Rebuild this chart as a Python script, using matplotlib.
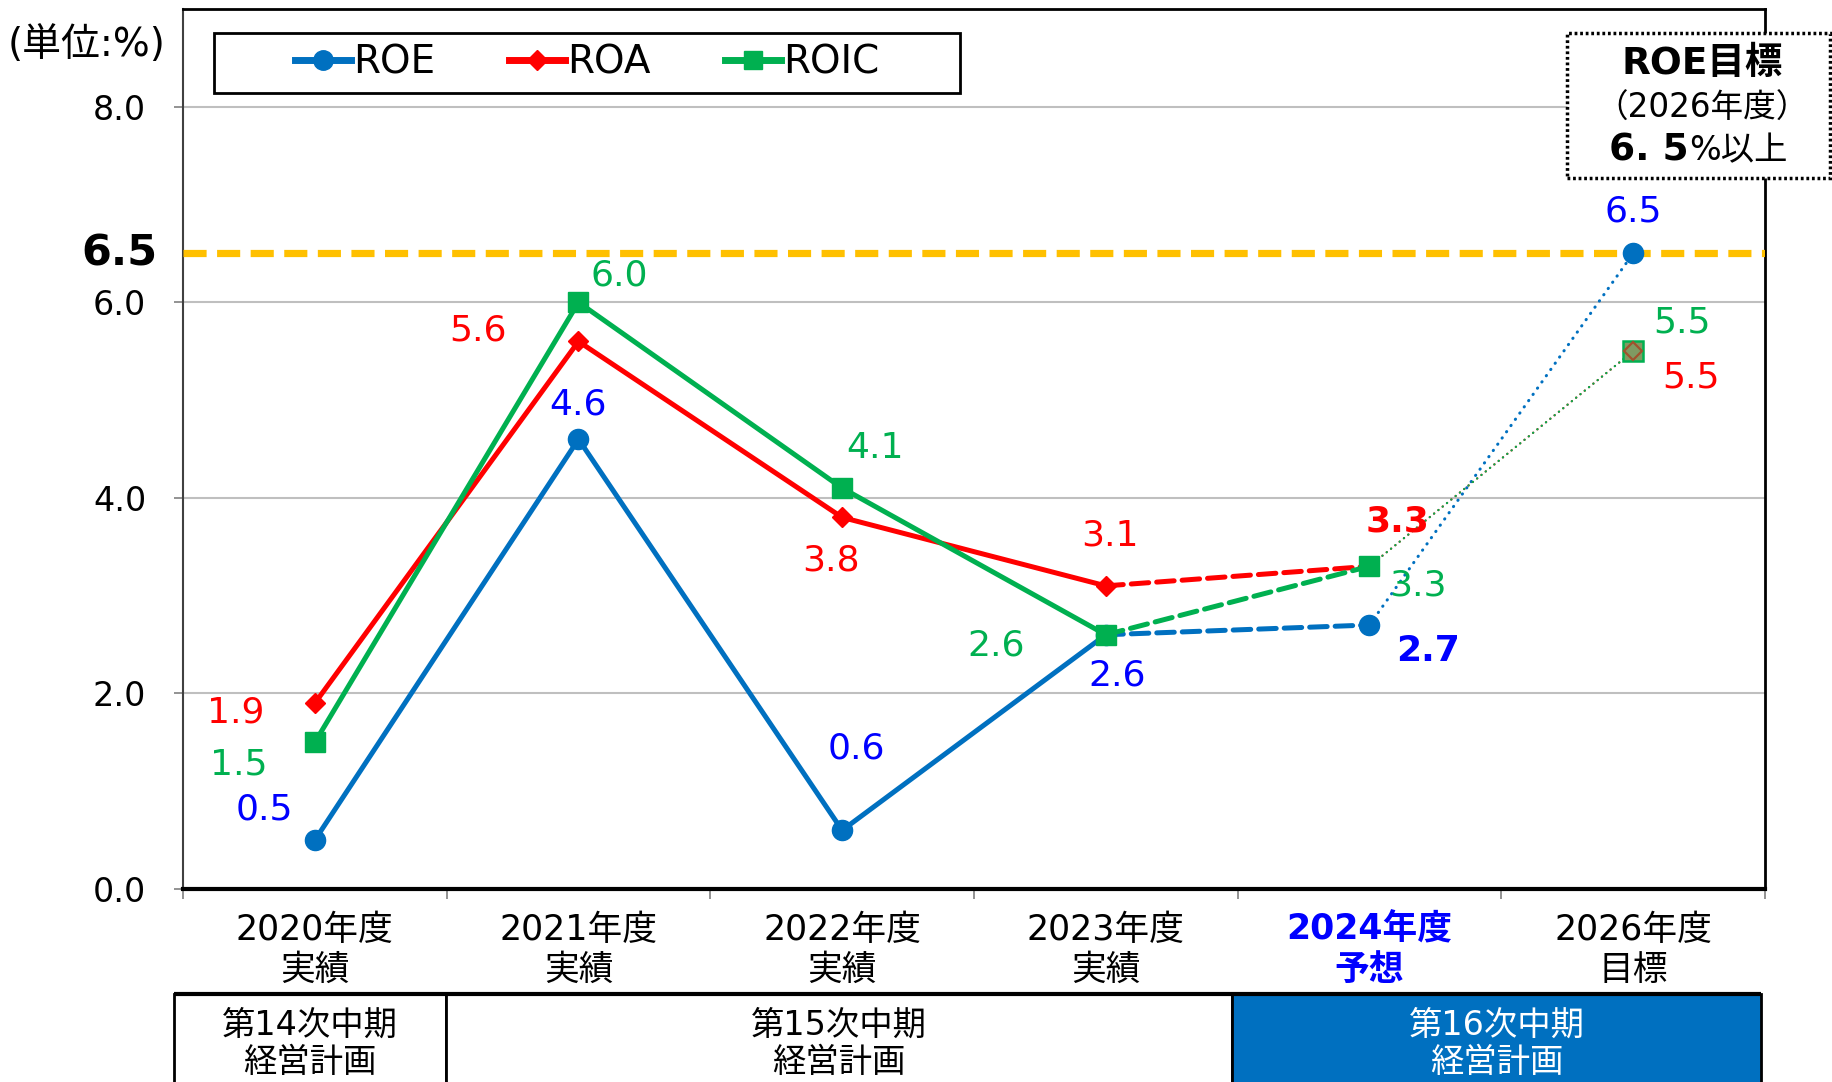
import matplotlib
matplotlib.use("Agg")
import matplotlib.pyplot as plt
import matplotlib.transforms as mtrans
from matplotlib.patches import Rectangle
from matplotlib.lines import Line2D

# Verdana-like digits first, CJK glyphs fall back to Noto
plt.rcParams['font.family'] = ['DejaVu Sans', 'Noto Sans CJK JP']

# data
years = ["2020年度\n実績", "2021年度\n実績", "2022年度\n実績", "2023年度\n実績",
         "2024年度\n予想", "2026年度\n目標"]
roe = [0.5, 4.6, 0.6, 2.6, 2.7, 6.5]
roa = [1.9, 5.6, 3.8, 3.1, 3.3, 5.5]
roic = [1.5, 6.0, 4.1, 2.6, 3.3, 5.5]
roe_target = 6.5
plans = ["第14次中期\n経営計画", "第15次中期\n経営計画", "第16次中期\n経営計画"]

C_ROE = '#0070C0'
C_ROA = '#FF0000'
C_ROIC = '#00B050'
T_ROE = '#0000FF'

# label offsets (points) per series
off_roe = [(-36, 22), (0, 25), (10, 59), (8, -29), (42, -19), (0, 30)]
off_roa = [(-57, -7), (-72, 8), (-8, -31), (3, 36), (20, 32), (42, -19)]
off_roic = [(-55, -16), (29, 19), (24, 29), (-79, -8), (35, -14), (35, 21)]

fig = plt.figure(figsize=(18.32, 10.82), dpi=100)
ax = fig.add_axes([0.0999, 0.1784, 0.8635, 0.8133])

x = list(range(len(years)))
LW = 3.6

def draw(vals, color, marker, ms, z):
    ax.plot(x[:4], vals[:4], color=color, lw=LW, zorder=z, solid_capstyle='round')
    ax.plot(x[3:5], vals[3:5], color=color, lw=LW, zorder=z, dashes=(3.5, 1.6),
            dash_capstyle='round')
    ax.plot(x[:5], vals[:5], ls='none', marker=marker, ms=ms, color=color, zorder=z + 0.5)

draw(roe, C_ROE, 'o', 14.5, 3)
draw(roa, C_ROA, 'D', 10, 4)
draw(roic, C_ROIC, 's', 14, 5)

# dotted to 2026
ax.plot(x[4:6], roe[4:6], color=C_ROE, lw=2.2, ls=(0, (0.1, 2.4)), dash_capstyle='round', zorder=3)
ax.plot(x[4:6], roa[4:6], color=C_ROA, lw=1.6, ls=(0, (0.1, 2.4)), dash_capstyle='round', zorder=4)
ax.plot(x[4:6], roic[4:6], color=C_ROIC, lw=1.6, ls=(0, (0.1, 2.4)), dash_capstyle='round', zorder=5)
ax.plot(x[5], roe[5], marker='o', ms=14.5, color=C_ROE, zorder=7)
ax.plot(x[5], roic[5], marker='s', ms=14, mfc='#7F9A62', mec=C_ROIC, mew=1.8, zorder=7)
ax.plot(x[5], roa[5], marker='D', ms=9.5, mfc='none', mec='#A0522D', mew=1.6, zorder=8)

# target line
ax.axhline(roe_target, color='#FFC000', lw=5.2, dashes=(3.2, 1.45), zorder=6)

# data labels
def labels(vals, offs, color, bold_idx):
    for i, (v, o) in enumerate(zip(vals, offs)):
        ax.annotate(f"{v:.1f}", (x[i], v), xytext=o, textcoords='offset points',
                    ha='center', va='center', fontsize=26, color=color,
                    fontweight='bold' if i in bold_idx else 'normal', zorder=10)

labels(roe, off_roe, T_ROE, [4])
labels(roa, off_roa, C_ROA, [4])
labels(roic, off_roic, C_ROIC, [])

ax.set_xlim(-0.5, 5.5)
ax.set_ylim(0, 9)
ax.set_yticks([0, 2, 4, 6, 8])
ax.set_yticklabels([f"{v:.1f}" for v in [0, 2, 4, 6, 8]])
ax.yaxis.grid(True, color='#BFBFBF', lw=1.5)
ax.set_axisbelow(True)
ax.tick_params(axis='y', labelsize=24, pad=20, length=6.5, color='#808080', width=1.2)

ax.set_xticks(x)
ax.set_xticklabels(years, fontsize=25, linespacing=1.25)
ax.set_xticks([i - 0.5 for i in range(len(years) + 1)], minor=True)
ax.tick_params(axis='x', which='major', length=0, pad=17)
ax.tick_params(axis='x', which='minor', length=7, color='#808080', width=1.2)
tl = ax.get_xticklabels()[4]
tl.set_color(T_ROE)
tl.set_fontweight('bold')

for s in ['top', 'right']:
    ax.spines[s].set_linewidth(2)
    ax.spines[s].set_color('black')
ax.spines['left'].set_color('#404040')
ax.spines['left'].set_linewidth(1.5)
ax.spines['bottom'].set_linewidth(3)

# 6.5 label at left
blend = mtrans.blended_transform_factory(ax.transAxes, ax.transData)
ax.text(-0.0164, roe_target, "6.5", transform=blend, ha='right', va='center',
        fontsize=31, fontweight='bold')

# legend, frame drawn separately so the padding matches
ax.add_patch(Rectangle((0.0196, 0.905), 0.4715, 0.068, transform=ax.transAxes,
                       facecolor='white', edgecolor='black', lw=2, zorder=11))
handles = [Line2D([], [], color=C_ROE, lw=5, marker='o', ms=14),
           Line2D([], [], color=C_ROA, lw=5, marker='D', ms=10),
           Line2D([], [], color=C_ROIC, lw=5, marker='s', ms=13)]
leg = ax.legend(handles, ["ROE", "ROA", "ROIC"], ncol=3, loc='center',
                bbox_to_anchor=(0.0196 + 0.4715 / 2, 0.939), fontsize=28,
                frameon=False, handlelength=1.45, handletextpad=0.05,
                columnspacing=1.9, borderpad=0, borderaxespad=0)
leg.set_zorder(12)

# plan table below the chart
bx = mtrans.blended_transform_factory(ax.transData, ax.transAxes)
cells = [(-0.535, 0.497), (0.497, 3.479), (3.479, 5.486)]
fills = ['white', 'white', '#0070C0']
tcolors = ['black', 'black', 'white']
for (a, b), name, fc, tc in zip(cells, plans, fills, tcolors):
    ax.add_patch(Rectangle((a, -0.35), b - a, 0.35 - 0.119, transform=bx,
                           facecolor=fc, edgecolor='black', lw=2, clip_on=False))
    ax.text((a + b) / 2, -0.176, name, transform=bx, ha='center', va='center',
            fontsize=24, color=tc, linespacing=1.2)
ax.plot([-0.535, 5.486], [-0.119, -0.119], transform=bx, color='black', lw=3,
        clip_on=False, solid_capstyle='butt')

# unit
fig.text(0.004, 0.958, "(単位:%)", fontsize=28, ha='left', va='center')

# target box
box = Rectangle((0.8553, 0.8355), 0.1436, 0.134, transform=fig.transFigure,
                facecolor='white', edgecolor='black', lw=2.5, ls=(0, (0.8, 0.8)),
                zorder=20)
fig.add_artist(box)
fig.text(0.929, 0.941, "ROE目標", fontsize=27, fontweight='bold', ha='center',
         va='center', zorder=21)
fig.text(0.929, 0.900, "（2026年度）", fontsize=23.5, ha='center', va='center', zorder=21)
fig.text(0.922, 0.852, "6. 5", fontsize=27, fontweight='bold', ha='right',
         va='baseline', zorder=21)
fig.text(0.922, 0.852, "%以上", fontsize=24, ha='left', va='baseline', zorder=21)

fig.savefig("out.png", dpi=100)
